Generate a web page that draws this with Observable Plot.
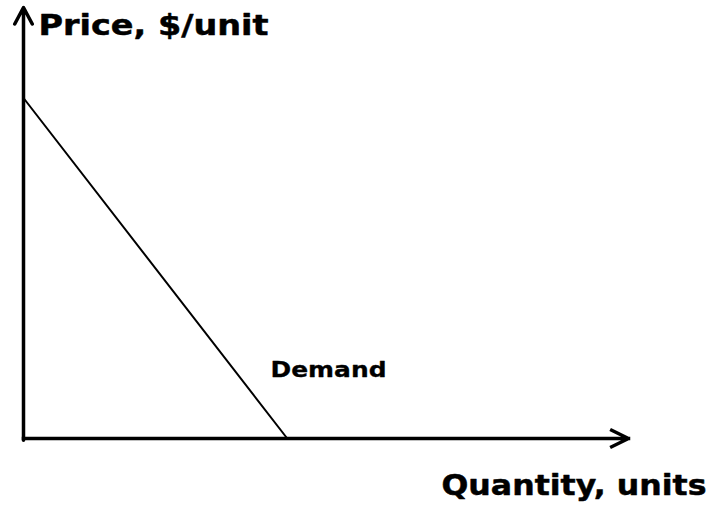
<!DOCTYPE html>
<html>
<head>
<meta charset="utf-8">
<script src="https://cdn.jsdelivr.net/npm/d3@7"></script>
<script src="https://cdn.jsdelivr.net/npm/@observablehq/plot@0.6"></script>
<style>
  html, body { margin: 0; padding: 0; background: #fff; }
  svg text { font-family: "DejaVu Sans", Verdana, sans-serif; font-weight: bold; }
</style>
</head>
<body>
<div id="chart"></div>
<script>
// Demand curve endpoints (quantity, price) in chart units
const demandQuantity = [0, 43.6];
const demandPrice = [79, 0];
// Axis extents
const axisQuantity = [0, 100];
const axisPrice = [0, 100];
// Labels
const xTitle = "Quantity, units";
const yTitle = "Price, $/unit";
const curveLabel = "Demand";

const demand = demandQuantity.map((q, i) => ({q, p: demandPrice[i]}));

const chart = Plot.plot({
  width: 710,
  height: 506,
  margin: 0,
  x: {domain: axisQuantity, range: [23, 628], axis: null},
  y: {domain: axisPrice, range: [438, 7], axis: null},
  marks: [
    Plot.line(demand, {x: "q", y: "p", stroke: "black", strokeWidth: 2}),
    Plot.arrow([{x1: axisQuantity[0], y1: axisPrice[0], x2: axisQuantity[1], y2: axisPrice[0]}],
      {x1: "x1", y1: "y1", x2: "x2", y2: "y2", stroke: "black", strokeWidth: 3.5, headLength: 8, headAngle: 52, strokeLinecap: "square"}),
    Plot.arrow([{x1: axisQuantity[0], y1: axisPrice[0] - 0.4, x2: axisQuantity[0], y2: axisPrice[1]}],
      {x1: "x1", y1: "y1", x2: "x2", y2: "y2", stroke: "black", strokeWidth: 3.5, headLength: 8, headAngle: 56}),
    Plot.text([yTitle], {text: d => d, frameAnchor: "top-left", dx: 38, dy: 25, textAnchor: "start", lineAnchor: "middle", fontSize: 29, fill: "black", stroke: "black", strokeWidth: 0.5, className: "ttl-y"}),
    Plot.text([xTitle], {text: d => d, frameAnchor: "top-left", dx: 441, dy: 485, textAnchor: "start", lineAnchor: "middle", fontSize: 29, fill: "black", stroke: "black", strokeWidth: 0.5, className: "ttl-x"}),
    Plot.text([curveLabel], {text: d => d, frameAnchor: "top-left", dx: 270, dy: 370, textAnchor: "start", lineAnchor: "middle", fontSize: 21, fill: "black", stroke: "black", strokeWidth: 0.3, className: "lbl-d"})
  ]
});
// Stretch text to the wider Verdana-like widths of the reference
const widths = {"ttl-y": 230, "ttl-x": 265, "lbl-d": 116};
for (const [cls, w] of Object.entries(widths)) {
  d3.select(chart).selectAll("g." + cls + " text")
    .attr("textLength", w)
    .attr("lengthAdjust", "spacingAndGlyphs")
    .attr("paint-order", null);
}
document.getElementById("chart").appendChild(chart);
</script>
</body>
</html>
